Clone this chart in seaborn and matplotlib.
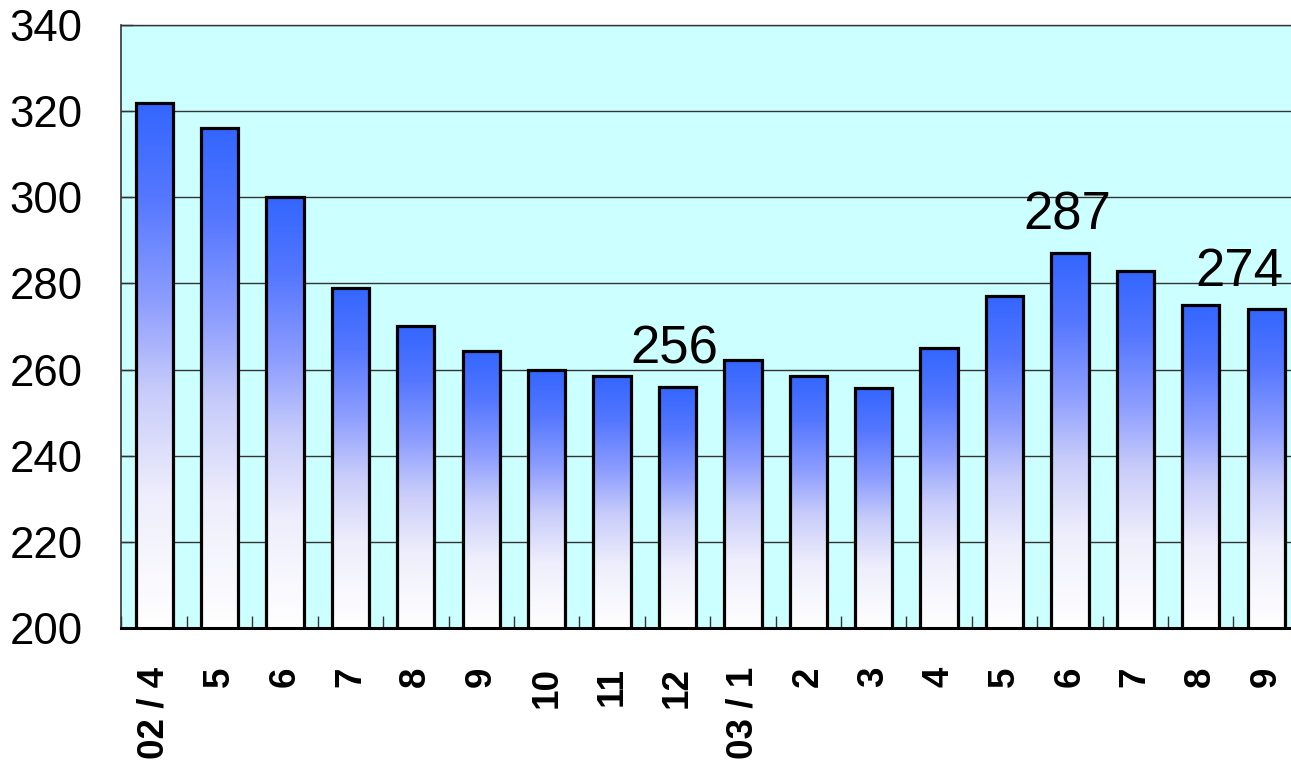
import numpy as np
import pandas as pd
import matplotlib
matplotlib.use("Agg")
import matplotlib.pyplot as plt
from matplotlib.colors import LinearSegmentedColormap
import seaborn as sns

# Monthly values, April 2002 through September 2003
months = ["02 / 4", "5", "6", "7", "8", "9", "10", "11", "12",
          "03 / 1", "2", "3", "4", "5", "6", "7", "8", "9"]
values = [322, 316, 300, 279, 270, 264.4, 260, 258.6, 256,
          262.2, 258.6, 255.8, 265, 277, 287, 282.8, 275, 274]
# Bars that carry a value label, and horizontal shift of the label (points)
labelled = {8: -2, 14: -2, 17: -19}

y_ticks = [200, 220, 240, 260, 280, 300, 320, 340]

sns.set_style("white")
plt.rcParams["font.family"] = ["Liberation Sans", "DejaVu Sans"]
plt.rcParams["text.color"] = "black"
plt.rcParams["xtick.color"] = "black"
plt.rcParams["ytick.color"] = "black"

df = pd.DataFrame({"month": range(len(months)), "value": values})

fig = plt.figure(figsize=(12.91, 7.62), dpi=100)
ax = fig.add_axes([0.0941, 0.1759, 0.912, 0.7913])
ax.set_facecolor("#CCFFFF")

sns.barplot(data=df, x="month", y="value", ax=ax, width=0.57,
            color="#3366FF", edgecolor="black", linewidth=2.3, zorder=3)

ymin, ymax = 200, 340
cmap = LinearSegmentedColormap.from_list(
    "fade", [(0.0, "#FFFFFF"), (0.25, "#EEEEFC"), (0.45, "#C8CCFA"),
             (0.62, "#8E9EFF"), (0.82, "#5577FF"), (1.0, "#3366FF")])
grad = np.linspace(0, 1, 256).reshape(-1, 1)

for p in ax.patches:
    x0, w, top = p.get_x(), p.get_width(), p.get_height()
    im = ax.imshow(grad, extent=[x0, x0 + w, ymin, top], origin="lower",
                   aspect="auto", cmap=cmap, zorder=2.5, interpolation="bicubic")
    im.set_clip_path(p)
    p.set_facecolor("none")
    p.set_zorder(3)

for i, dx in labelled.items():
    ax.annotate(f"{values[i]:.0f}", xy=(i, values[i]), xytext=(dx, 17),
                textcoords="offset points", ha="center", va="baseline",
                fontsize=38, color="black", zorder=5)

ax.set_xlim(-0.5, len(months) - 0.5)
ax.set_ylim(ymin, ymax)
ax.set_yticks(y_ticks)
ax.set_yticklabels([str(t) for t in y_ticks], fontsize=31.5)
ax.set_xticks(range(len(months)))
ax.set_xticklabels(months, rotation=90, fontsize=26.5, fontweight="bold")
ax.set_xticks(np.arange(-0.5, len(months), 1.0), minor=True)

ax.grid(axis="y", color="#333333", linewidth=1.0)
ax.set_axisbelow(True)

ax.tick_params(axis="y", direction="in", length=8.5, width=1, pad=28,
               left=True, color="#333333", labelcolor="black")
ax.tick_params(axis="x", which="major", length=0, pad=28, labelcolor="black")
ax.tick_params(axis="x", which="minor", direction="in", length=8.5,
               width=1, bottom=True, color="#333333")

ax.set_xlabel("")
ax.set_ylabel("")
ax.spines["right"].set_visible(False)
ax.spines["left"].set_color("#333333")
ax.spines["left"].set_linewidth(1.2)
ax.spines["top"].set_color("#333333")
ax.spines["top"].set_linewidth(1.0)
ax.spines["bottom"].set_color("black")
ax.spines["bottom"].set_linewidth(2.2)

fig.savefig("out.png", dpi=100)
